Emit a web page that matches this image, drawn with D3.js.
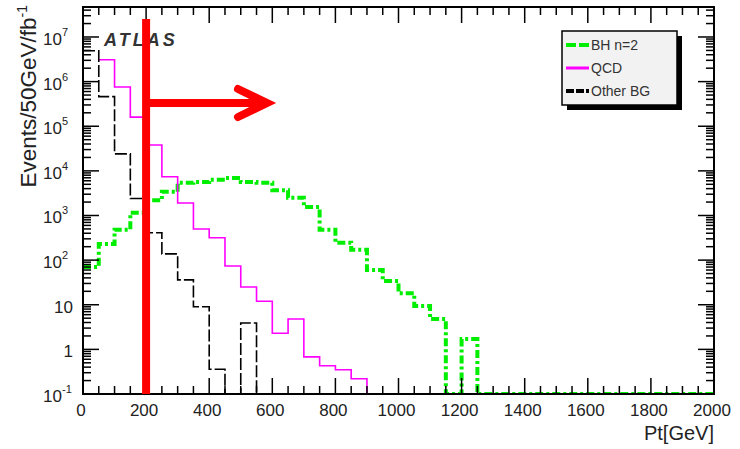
<!DOCTYPE html>
<html>
<head>
<meta charset="utf-8">
<script src="https://cdn.jsdelivr.net/npm/d3@7"></script>
<style>
  body { margin: 0; background: #fff; }
  text { font-family: "Liberation Sans", Arial, sans-serif; fill: #222; }
</style>
</head>
<body>
<div class="chart"></div>
<script>
// bin width 50 GeV, 0..2000
var binEdges = d3.range(0, 2001, 50);

// BH n=2 signal
var bhValues = [70, 230, 480, 1150, 2200, 3400, 5400, 5600, 6300, 6900,
  5600, 5400, 3700, 2500, 1550, 480, 245, 170, 60, 34,
  18, 9.4, 4.8, 0, 1.7, 0, 0, 0, 0, 0,
  0, 0, 0, 0, 0, 0, 0, 0, 0, 0];
// QCD (first bin not shown)
var qcdValues = [null, 3.1e6, 7.6e5, 1.6e5, 3.8e4, 7400, 1900, 500, 316, 74,
  25, 12, 2.3, 4.8, 0.68, 0.43, 0.35, 0.22, 0, 0,
  0, 0, 0, 0, 0, 0, 0, 0, 0, 0,
  0, 0, 0, 0, 0, 0, 0, 0, 0, 0];
// Other backgrounds
var otherValues = [4.9e6, 4.6e5, 2.4e4, 2400, 410, 138, 36, 9, 0.36, 0,
  3.9, 0, 0, 0, 0, 0, 0, 0, 0, 0,
  0, 0, 0, 0, 0, 0, 0, 0, 0, 0,
  0, 0, 0, 0, 0, 0, 0, 0, 0, 0];

var xTicks = [0, 200, 400, 600, 800, 1000, 1200, 1400, 1600, 1800, 2000];
var yTicks = [1e-1, 1, 10, 1e2, 1e3, 1e4, 1e5, 1e6, 1e7];
var yTickLabels = [["10", "-1"], ["1", ""], ["10", ""], ["10", "2"], ["10", "3"],
  ["10", "4"], ["10", "5"], ["10", "6"], ["10", "7"]];
var legendNames = ["BH n=2", "QCD", "Other BG"];
var cutValue = 200;

var width = 740, height = 449;
var frame = {left: 83, right: 714, top: 7, bottom: 394};

var svg = d3.select(".chart").append("svg")
  .attr("width", width)
  .attr("height", height);

var x = d3.scaleLinear().domain([0, 2000]).range([frame.left, frame.right]);
var y = d3.scaleLog().domain([0.1, 4.7e7]).range([frame.bottom, frame.top]);

svg.append("clipPath").attr("id", "plotclip")
  .append("rect")
  .attr("x", frame.left).attr("y", frame.top)
  .attr("width", frame.right - frame.left)
  .attr("height", frame.bottom - frame.top);

// build step points like a ROOT histogram
function stepPoints(vals) {
  var pts = [];
  vals.forEach(function(v, i) {
    if (v === null) return;
    var yy = v > 0.1 ? v : 0.1;
    pts.push([binEdges[i], yy]);
    pts.push([binEdges[i + 1], yy]);
  });
  return pts;
}

var line = d3.line()
  .x(function(d) { return x(d[0]); })
  .y(function(d) { return y(d[1]); });

var plot = svg.append("g").attr("clip-path", "url(#plotclip)");

var series = [
  {vals: bhValues, color: "#00ee00", width: 4, dash: "8,3,3,3"},
  {vals: qcdValues, color: "#ff00ff", width: 1.6, dash: null},
  {vals: otherValues, color: "#000", width: 1.6, dash: "12,3"}
];

series.forEach(function(s) {
  plot.append("path")
    .attr("d", line(stepPoints(s.vals)))
    .attr("fill", "none")
    .attr("stroke", s.color)
    .attr("stroke-width", s.width)
    .attr("stroke-dasharray", s.dash);
});

// frame
svg.append("rect")
  .attr("x", frame.left).attr("y", frame.top)
  .attr("width", frame.right - frame.left)
  .attr("height", frame.bottom - frame.top)
  .attr("fill", "none")
  .attr("stroke", "#000")
  .attr("stroke-width", 2);

// ticks
var ticksG = svg.append("g").attr("stroke", "#000").attr("stroke-width", 1.5);
d3.range(0, 2001, 50).forEach(function(v) {
  var len = v % 200 === 0 ? 16 : 8;
  ticksG.append("line").attr("x1", x(v)).attr("x2", x(v))
    .attr("y1", frame.bottom).attr("y2", frame.bottom - len);
  ticksG.append("line").attr("x1", x(v)).attr("x2", x(v))
    .attr("y1", frame.top).attr("y2", frame.top + len);
});
for (var e = -1; e <= 7; e++) {
  for (var m = 1; m <= 9; m++) {
    var v = m * Math.pow(10, e);
    if (v > 4.7e7) continue;
    var len = m === 1 ? 16 : 8;
    ticksG.append("line").attr("x1", frame.left).attr("x2", frame.left + len)
      .attr("y1", y(v)).attr("y2", y(v));
    ticksG.append("line").attr("x1", frame.right).attr("x2", frame.right - len)
      .attr("y1", y(v)).attr("y2", y(v));
  }
}

// x tick labels
svg.selectAll(".xlab").data(xTicks).enter().append("text")
  .attr("x", function(d) { return x(d) - 2; })
  .attr("y", 416)
  .attr("text-anchor", "middle")
  .style("font-size", "17px")
  .text(function(d) { return d; });

// y tick labels
yTicks.forEach(function(t, i) {
  var lab = yTickLabels[i];
  var txt = svg.append("text")
    .attr("x", lab[1] ? 62 : 73)
    .attr("y", y(t) + 8)
    .attr("text-anchor", "end")
    .style("font-size", "17px");
  txt.append("tspan").text(lab[0]);
  if (lab[1]) {
    svg.append("text")
      .attr("x", 62)
      .attr("y", y(t) - 1)
      .style("font-size", "11px")
      .text(lab[1]);
  }
});

// axis titles
svg.append("text")
  .attr("x", frame.right)
  .attr("y", 440)
  .attr("text-anchor", "end")
  .style("font-size", "20px")
  .text("Pt[GeV]");

var yt = svg.append("text")
  .attr("transform", "translate(36,5) rotate(-90)")
  .attr("text-anchor", "end")
  .style("font-size", "22.5px");
yt.append("tspan").text("Events/50GeV/fb");
yt.append("tspan").attr("dy", -9).style("font-size", "14px").text("-1");

// ATLAS label
svg.append("text")
  .attr("x", 104)
  .attr("y", 46)
  .style("font-size", "18px")
  .style("font-weight", "bold")
  .style("font-style", "italic")
  .style("letter-spacing", "3px")
  .style("fill", "#333")
  .text("ATLAS");

// legend
var lg = svg.append("g");
lg.append("rect").attr("x", 567).attr("y", 36).attr("width", 115).attr("height", 74)
  .attr("fill", "#000");
lg.append("rect").attr("x", 562).attr("y", 31).attr("width", 115).attr("height", 74)
  .attr("fill", "#f2f2f2").attr("stroke", "#000").attr("stroke-width", 1.5);
series.forEach(function(s, i) {
  var ly = 45 + i * 23;
  lg.append("line").attr("x1", 566).attr("x2", 589)
    .attr("y1", ly).attr("y2", ly)
    .attr("stroke", s.color)
    .attr("stroke-width", i === 1 ? 3 : 4)
    .attr("stroke-dasharray", i === 0 ? "10,3" : (i === 2 ? "8,2" : null));
  lg.append("text").attr("x", 591).attr("y", ly + 5)
    .style("font-size", "14px")
    .style("fill", "#333")
    .text(legendNames[i]);
});

// cut line and arrow
var red = svg.append("g").attr("stroke", "#ff0000").attr("fill", "none");
red.append("line")
  .attr("x1", x(cutValue)).attr("x2", x(cutValue))
  .attr("y1", 19).attr("y2", frame.bottom)
  .attr("stroke-width", 8);
red.append("line")
  .attr("x1", x(cutValue) + 3).attr("x2", 264)
  .attr("y1", 103).attr("y2", 103)
  .attr("stroke-width", 8);
red.append("path")
  .attr("d", "M238,89L267,103L238,117")
  .attr("stroke-width", 8)
  .attr("stroke-linecap", "round")
  .attr("stroke-linejoin", "miter");
</script>
</body>
</html>
